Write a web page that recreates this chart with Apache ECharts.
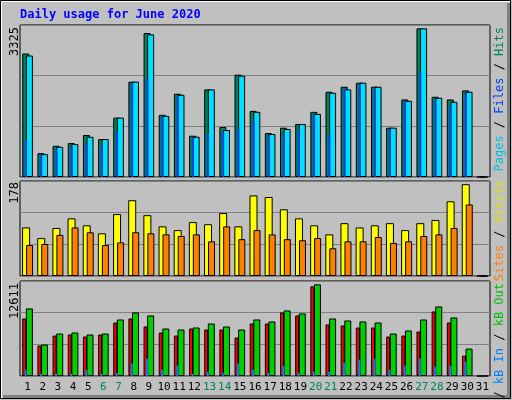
<!DOCTYPE html>
<html><head><meta charset="utf-8">
<script src="https://cdn.jsdelivr.net/npm/echarts@6/dist/echarts.min.js"></script>
<style>html,body{margin:0;padding:0;background:#c0c0c0}#c{width:512px;height:400px}</style>
</head><body><div id="c"></div>
<script>
const days = ['1','2','3','4','5','6','7','8','9','10','11','12','13','14','15','16','17','18','19','20','21','22','23','24','25','26','27','28','29','30','31'];
const weekend = ['6','7','13','14','20','21','27','28'];
const hits  = [2702,522,683,742,918,830,1299,2085,3149,1359,1821,903,1916,1094,2239,1447,962,1079,1160,1425,1865,1975,2063,1975,1079,1696,3252,1755,1696,1894,0];
const files = [2658,500,661,720,881,830,1299,2085,3120,1337,1799,881,1916,1028,2217,1425,940,1050,1160,1381,1843,1916,2063,1975,1079,1667,3252,1733,1645,1865,0];
const pages = [808,478,617,667,727,683,991,2048,2151,1315,1762,837,947,991,1057,1233,903,925,1035,1365,925,1931,2026,1931,1050,1645,2290,1696,1563,1828,0];
const visits = [91,71,90,108,95,80,116,142,114,93,86,101,97,118,93,151,148,125,108,95,78,99,91,95,99,86,99,105,140,172,0];
const sites  = [58,60,77,91,82,58,63,82,80,78,75,78,65,93,69,86,78,69,67,71,52,65,65,73,62,65,75,78,90,134,0];
const kbF   = [7637,4040,5372,5506,5239,5506,7104,7637,6571,5772,5372,6305,6172,6172,5106,6971,6971,8436,8036,11899,6838,6704,6438,6438,5239,5372,5905,8569,7104,2708,0];
const kbIn  = [844,311,311,311,844,311,444,1643,2309,844,1376,311,577,444,1643,844,444,1376,444,577,577,1776,2176,2309,844,1376,2309,1243,1376,1909,0];
const kbOut = [8969,4174,5639,5772,5506,5639,7504,8436,8036,6305,6172,6438,6971,6571,6172,7504,7237,8702,8303,12166,7637,7370,7237,7104,5639,6038,7504,9235,7770,3641,0];
const maxLabels = [3325, 178, 12611];
const title = 'Daily usage for June 2020';

const font = 'DejaVu Sans Mono';
const grids = [
  {left:20, right:22, top:25, height:152},
  {left:20, right:22, top:181, height:95},
  {left:20, right:22, top:281, height:95}
].map(g => Object.assign(g, {show:true, borderColor:'#000', borderWidth:1, backgroundColor:'#c0c0c0'}));

const xAxes = grids.map((g,i) => ({
  type:'category', gridIndex:i, data:days,
  axisLine:{show:false}, axisTick:{show:false},
  axisLabel:{show:i===2, fontFamily:font, fontSize:11, margin:6, interval:0,
    color:(v)=>weekend.includes(v)?'#00805c':'#000'}
}));
const yAxes = maxLabels.map((m,i) => ({
  type:'value', gridIndex:i, min:0, max:m, interval:m/3,
  axisLabel:{show:false}, axisLine:{show:false}, axisTick:{show:false},
  splitLine:{lineStyle:{color:'#808080', width:1}}
}));
const bs = {borderColor:'#000', borderWidth:1};
function bar(name, data, gi, w, color, gap, z) {
  return {name, type:'bar', data, xAxisIndex:gi, yAxisIndex:gi, barWidth:w, barGap:gap,
    itemStyle:Object.assign({color}, w<3?{borderWidth:0}:bs), z:z||2, animation:false, silent:true};
}
const series = [
  bar('Hits', hits, 0, 7, '#00805c', '-60%', 2),
  bar('Pages', pages, 0, 2, '#0040ff', '-60%', 4),
  bar('Files', files, 0, 7, '#00e0ff', '-60%', 3),
  bar('Visits', visits, 1, 8, '#ffff00', '-50%', 2),
  bar('Sites', sites, 1, 7, '#ff8000', '-50%', 3),
  bar('kB F', kbF, 2, 4, '#ff0000', '-40%', 2),
  bar('kB In', kbIn, 2, 2, '#0080ff', '-40%', 4),
  bar('kB Out', kbOut, 2, 7, '#00d000', '-40%', 3)
];
function vtext(x, y, rich, text) {
  return {type:'text', x, y, rotation:Math.PI/2, z:10,
    style:{text, rich, fontFamily:font, fontSize:12, align:'right', verticalAlign:'middle'}};
}
const graphic = [
  {type:'rect', shape:{x:0.5,y:0.5,width:510,height:398}, style:{fill:'none', stroke:'#000', lineWidth:1}, z:0},
  {type:'rect', shape:{x:1.5,y:1.5,width:508,height:396}, style:{fill:'none', stroke:'#fff', lineWidth:1}, z:0},
  {type:'polyline', shape:{points:[[3,396.5],[508.5,396.5],[508.5,3]]}, style:{stroke:'#808080', lineWidth:3, fill:'none'}, z:0},
  {type:'text', x:20, y:9, style:{text:title, fontFamily:font, fontWeight:'bold', fontSize:12, fill:'#0000ff'}},
  vtext(15, 27, null, String(maxLabels[0])),
  vtext(15, 182, null, String(maxLabels[1])),
  vtext(15, 283, null, String(maxLabels[2])),
  vtext(500, 27, {p:{fill:'#00c0e0',fontFamily:font,fontSize:12}, f:{fill:'#0040ff',fontFamily:font,fontSize:12}, h:{fill:'#00805c',fontFamily:font,fontSize:12}, s:{fill:'#000',fontFamily:font,fontSize:12}},
    '{p|Pages}{s| / }{f|Files}{s| / }{h|Hits}'),
  vtext(500, 180, {o:{fill:'#ff8000',fontFamily:font,fontSize:12}, y:{fill:'#e0e000',fontFamily:font,fontSize:12}, s:{fill:'#000',fontFamily:font,fontSize:12}},
    '{o|Sites}{s| / }{y|Visits}'),
  vtext(500, 283, {r:{fill:'#ff0000',fontFamily:font,fontSize:12}, b:{fill:'#0080ff',fontFamily:font,fontSize:12}, g:{fill:'#00c000',fontFamily:font,fontSize:12}, s:{fill:'#000',fontFamily:font,fontSize:12}},
    '{r|kB F}{s| / }{b|kB In}{s| / }{g|kB Out}')
];
const chart = echarts.init(document.getElementById('c'));
chart.setOption({backgroundColor:'#c0c0c0', animation:false, grid:grids, xAxis:xAxes, yAxis:yAxes, series, graphic});
</script></body></html>
